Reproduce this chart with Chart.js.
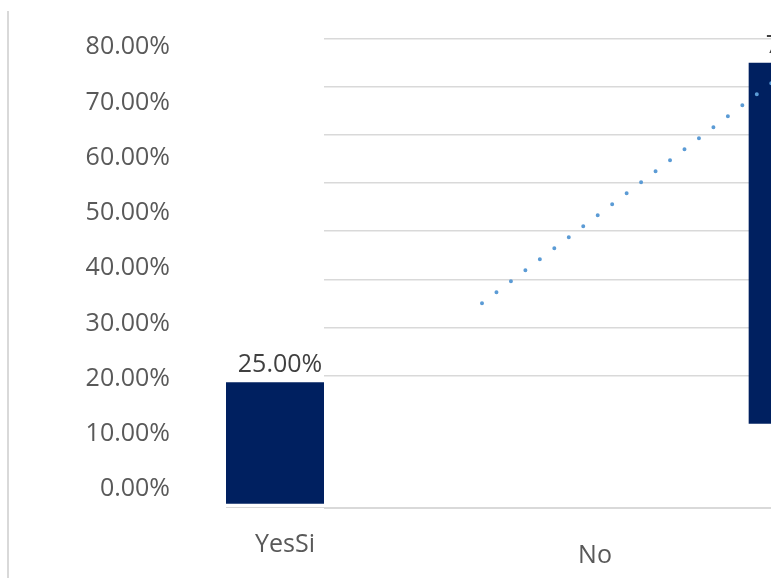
<!DOCTYPE html>
<html>
<head>
<meta charset="utf-8">
<script src="https://cdn.jsdelivr.net/npm/chart.js@4/dist/chart.umd.min.js"></script>
<style>
  html, body { margin: 0; padding: 0; background: #fff; }
  #frame { position: relative; width: 771px; height: 578px; overflow: hidden; background: #fff; }
  #edge { position: absolute; left: 7px; top: 11px; width: 2px; height: 567px; background: #d9d9d9; }
  #leftPanel { position: absolute; left: 0; top: 0; }
  #rightPanel { position: absolute; left: 324px; top: 0; }
</style>
</head>
<body>
<div id="frame">
  <div id="edge"></div>
  <canvas id="leftPanel" width="324" height="578"></canvas>
  <canvas id="rightPanel" width="632" height="578"></canvas>
</div>
<script>
// Survey answers and their shares
const categories = ['YesSi', 'No'];
const shares = [0.25, 0.75];
// Value-axis tick labels and the gridline levels of the plot panel
const axisTicks = [0, 0.1, 0.2, 0.3, 0.4, 0.5, 0.6, 0.7, 0.8];
const gridLevels = [0.1, 0.2, 0.3, 0.4, 0.5, 0.6, 0.7, 0.8];

const NAVY = '#002060';
const FONT = "'Open Sans', sans-serif";
Chart.defaults.font.family = FONT;
Chart.defaults.font.size = 25;
Chart.defaults.color = '#595959';

const pct = v => (v * 100).toFixed(2) + '%';

// Only the answer at the given index is drawn in a panel
const onlyAt = idx => shares.map((v, i) => (i === idx ? v : null));

// Keep label overhang from pushing the plot area around
const noOverhang = s => {
  s.paddingTop = 0; s.paddingBottom = 0; s.paddingLeft = 0; s.paddingRight = 0;
};

// Writes each bar's value above it
const valueLabels = {
  id: 'valueLabels',
  afterDatasetsDraw(chart, args, opts) {
    const { ctx, chartArea } = chart;
    chart.data.datasets.forEach((ds, di) => {
      const meta = chart.getDatasetMeta(di);
      if (meta.type !== 'bar') return;
      meta.data.forEach((el, i) => {
        const v = ds.data[i];
        if (v === null || v === undefined) return;
        if (el.x < chartArea.left || el.x > chartArea.right) return;
        ctx.save();
        ctx.font = `25px ${FONT}`;
        ctx.fillStyle = opts.color || '#404040';
        ctx.textAlign = 'center';
        ctx.textBaseline = 'middle';
        ctx.fillText(pct(v), el.x + (opts.dx || 0), el.y - (opts.dy || 0));
        ctx.restore();
      });
    });
  }
};

// Left panel: value axis labels and the first answer's bar
new Chart(document.getElementById('leftPanel'), {
  type: 'bar',
  data: {
    labels: categories,
    datasets: [{
      data: onlyAt(0),
      backgroundColor: NAVY,
      categoryPercentage: 1,
      barPercentage: 1,
      yAxisID: 'y'
    }]
  },
  options: {
    responsive: false,
    animation: false,
    layout: { padding: { top: 39, left: 0, right: 0, bottom: 0 } },
    plugins: {
      legend: { display: false },
      tooltip: { enabled: false },
      valueLabels: { dx: 5, dy: 17.5, color: '#404040' }
    },
    scales: {
      x: {
        type: 'category',
        min: 'YesSi',
        max: 'YesSi',
        offset: true,
        grid: { display: false, drawTicks: false },
        border: { display: true, color: '#d9d9d9', width: 1 },
        ticks: { padding: 23, labelOffset: 10, maxRotation: 0, autoSkip: false, color: '#595959' },
        afterFit: s => { s.height = 71; noOverhang(s); }
      },
      yTicks: {
        type: 'linear',
        position: 'left',
        min: -0.03204,
        max: 0.81502,
        grid: { display: false, drawTicks: false },
        border: { display: false },
        ticks: { padding: 56, color: '#595959', callback: v => pct(v) },
        afterBuildTicks: s => { s.ticks = axisTicks.map(v => ({ value: v })); },
        afterFit: s => { s.width = 226; noOverhang(s); }
      },
      y: {
        type: 'linear',
        display: false,
        min: -0.00767,
        max: 0.9625
      }
    }
  },
  plugins: [valueLabels]
});

// Right panel: gridlines, the second answer's bar and the linear trend
new Chart(document.getElementById('rightPanel'), {
  type: 'bar',
  data: {
    labels: categories,
    datasets: [
      {
        type: 'line',
        data: shares,
        borderColor: '#5b9bd5',
        borderWidth: 4,
        borderDash: [0, 18.17],
        borderCapStyle: 'round',
        pointRadius: 0,
        fill: false,
        tension: 0,
        order: 0
      },
      {
        type: 'bar',
        data: onlyAt(1),
        backgroundColor: NAVY,
        barThickness: 98,
        order: 1
      }
    ]
  },
  options: {
    responsive: false,
    animation: false,
    layout: { padding: { top: 39, left: 0, right: 0, bottom: 0 } },
    plugins: {
      legend: { display: false },
      tooltip: { enabled: false },
      valueLabels: { dx: 10, dy: 17.5, color: '#404040' }
    },
    scales: {
      x: {
        type: 'category',
        offset: true,
        grid: { display: false, drawTicks: false },
        border: { display: true, color: '#d9d9d9', width: 2 },
        ticks: { padding: 33, labelOffset: -203, maxRotation: 0, autoSkip: false, color: '#595959' },
        afterFit: s => { s.height = 70; noOverhang(s); }
      },
      y: {
        type: 'linear',
        min: -0.1759,
        max: 0.8,
        grid: { color: '#d9d9d9', lineWidth: 1.5, drawTicks: false },
        border: { display: false },
        ticks: { display: false },
        afterBuildTicks: s => { s.ticks = gridLevels.map(v => ({ value: v })); },
        afterFit: s => { s.width = 0; noOverhang(s); }
      }
    }
  },
  plugins: [valueLabels]
});
</script>
</body>
</html>
